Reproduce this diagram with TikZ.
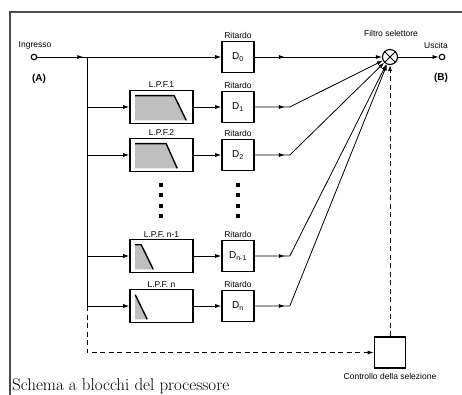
\documentclass[tikz,border=0pt]{standalone}
\usepackage{fontspec}
\setsansfont{Liberation Sans}
\usepackage{tikz}
\usetikzlibrary{arrows.meta,positioning,calc,decorations.markings}

\tikzset{
  lbl/.style={font=\sffamily\fontsize{8.5}{9}\selectfont, inner sep=0.5pt},
  tag/.style={font=\sffamily\bfseries\fontsize{10}{11}\selectfont, inner sep=0pt},
  blk/.style={draw, line width=1.6pt, inner sep=0pt, font=\sffamily\fontsize{10}{11}\selectfont},
  lpf/.style={blk, minimum width=63pt, minimum height=33pt},
  delay/.style={blk, minimum width=32pt, minimum height=31pt},
  term/.style={draw, circle, line width=1.1pt, minimum size=5.5pt, inner sep=0pt, fill=white},
  wire/.style={line width=0.8pt},
  arrowed/.style={wire, -{Latex[length=6pt,width=4pt]}},
  arrat/.style={postaction={decorate,decoration={markings,mark=at position #1 with {\arrow{Latex[length=6pt,width=4pt]}}}}},
  ctrl/.style={wire, dash pattern=on 5pt off 3.5pt},
  icon/.style={line width=1.4pt, line join=miter},
  frame/.style={line width=1.2pt, color=black!70}
}

\newcommand{\lpfshape}[3]{%
  \fill [black!25] ($(#1.north west)+(6,6)$) -- ($(#1.north west)+(6+#2,6)$) -- ($(#1.south west)+(#3,-4)$) -- ($(#1.south west)+(6,-4)$) -- cycle;
  \draw [icon] ($(#1.north west)+(6,6)$) -- ($(#1.north west)+(6+#2,6)$) -- ($(#1.south west)+(#3,-4)$);
}

\begin{document}
\begin{tikzpicture}[x=1pt,y=-1pt]

\useasboundingbox (0,0) rectangle (462,395);
\draw [frame] (10,395) -- (10,12) -- (462,12);

\node [term] (in) at (34,57) {};
\node [lbl] at (35,45) {Ingresso};
\node [tag] at (39,79) {(A)};
\coordinate (br) at (87,57);
\coordinate (bend) at (87,306);

\node [delay] (d0) at (238,57) {D\textsubscript{0}};
\node [delay] (d1) at (238,107) {D\textsubscript{1}};
\node [delay] (d2) at (238,155) {D\textsubscript{2}};
\node [delay] (dm) at (238,256) {D\textsubscript{n-1}};
\node [delay] (dn) at (238,306) {D\textsubscript{n}};

\foreach \d in {d0,d1,d2,dm,dn}
  \node [lbl, above=1.5pt of \d] {Ritardo};

\node [lpf] (f1) at (161.5,107) {};
\node [lpf] (f2) at (161.5,155) {};
\node [lpf] (fm) at (161.5,256) {};
\node [lpf] (fn) at (161.5,306) {};

\node [lbl, above=1pt of f1] {L.P.F.1};
\node [lbl, above=1pt of f2] {L.P.F.2};
\node [lbl, above=1pt of fm] {L.P.F. n-1};
\node [lbl, above=1pt of fn] {L.P.F. n};

\lpfshape{f1}{39}{57}
\lpfshape{f2}{31}{48}
\lpfshape{fm}{6}{24}
\lpfshape{fn}{0}{18}

\foreach \x in {161,238}
  \foreach \y in {185,195,206,216}
    \fill (\x-1.6,\y-2) rectangle (\x+1.6,\y+2);

\node [draw, circle, line width=1.1pt, minimum size=15pt, inner sep=0pt] (sel) at (390,57) {};
\draw [line width=0.9pt] (sel.north west) -- (sel.south east);
\draw [line width=0.9pt] (sel.north east) -- (sel.south west);
\node [lbl] at (391,33) {Filtro selettore};

\node [term] (out) at (442,57) {};
\node [lbl] at (436,45) {Uscita};
\node [tag] at (441,78) {(B)};

\node [draw, line width=1.6pt, minimum size=31pt, inner sep=0pt] (ctl) at (390,352.5) {};
\node [lbl, below=4pt of ctl] {Controllo della selezione};

\draw [arrowed, arrat=46pt] (in) -- (d0);
\draw [wire] (br) -- (bend);
\foreach \f in {f1,f2,fm,fn}
  \draw [arrowed] (br |- \f) -- (\f);

\draw [arrowed] (f1) -- (d1);
\draw [arrowed] (f2) -- (d2);
\draw [arrowed] (fm) -- (dm);
\draw [arrowed] (fn) -- (dn);

\draw [arrowed, arrat=30pt] (d0) -- (sel);
\foreach \d in {d1,d2,dm,dn} {
  \coordinate (k) at ($(\d.east)+(35,0)$);
  \draw [arrowed, arrat=30pt] (\d) -- (k) -- (sel);
}
\draw [arrowed] (sel) -- (out);

\draw [ctrl, -{Latex[length=6pt,width=4pt]}] (bend) |- (ctl);
\draw [ctrl, -{Latex[length=6pt,width=4pt]}] (ctl) -- (sel);

\node [anchor=base west, inner sep=0pt, font=\fontsize{17}{19}\selectfont] at (12,390) {Schema a blocchi del processore};

\end{tikzpicture}
\end{document}
